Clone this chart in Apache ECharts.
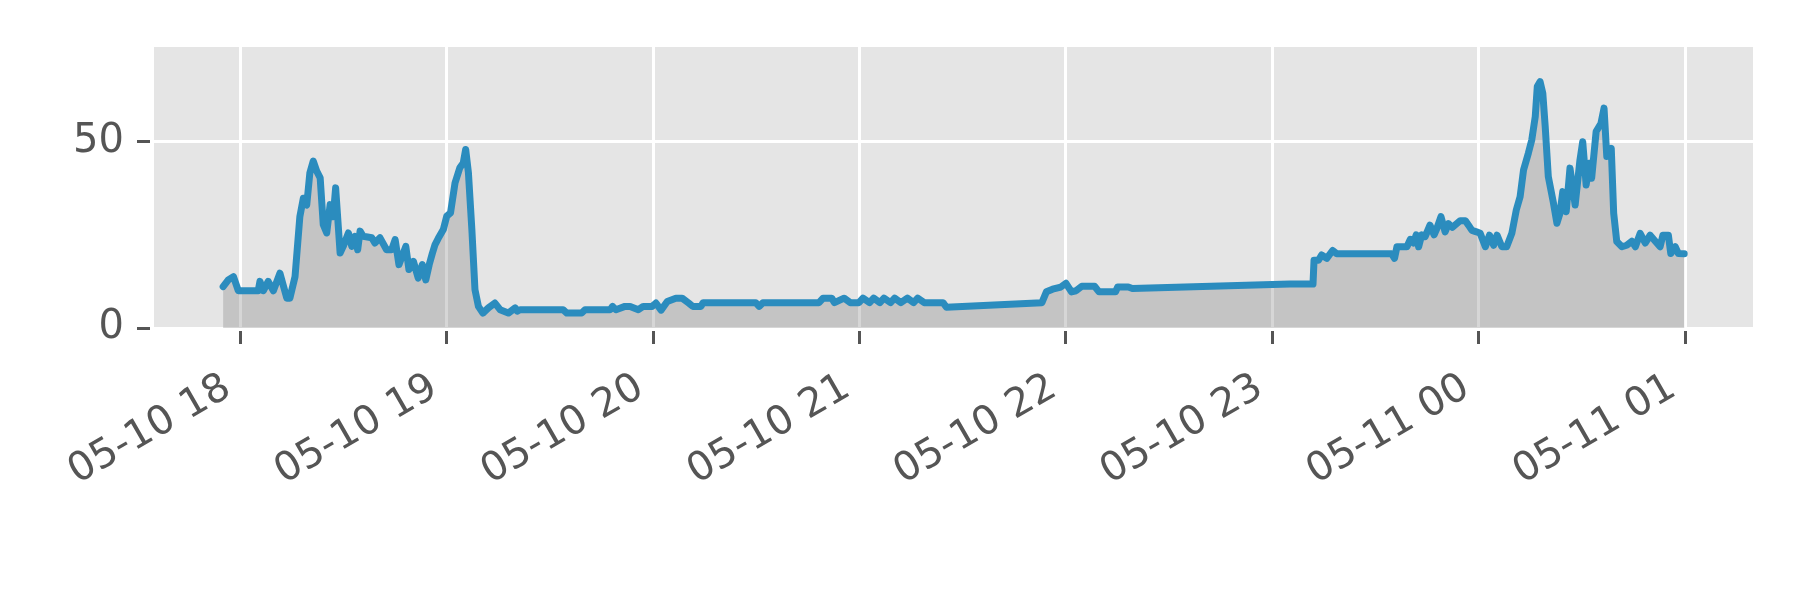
<!DOCTYPE html>
<html>
<head>
<meta charset="utf-8">
<script src="https://cdn.jsdelivr.net/npm/echarts@6/dist/echarts.min.js"></script>
<style>
  html, body { margin: 0; padding: 0; background: #ffffff; }
  #chart { width: 1800px; height: 600px; }
</style>
</head>
<body>
<div id="chart"></div>
<script>
// Minutes after 05-10 18:00
const minutes = [
  -4.9, -3.4, -1.9, -0.5, 5.3, 5.8, 6.8, 8.2, 9.7, 11.6, 13.6, 14.5, 16.0, 17.4, 18.4, 19.4,
  20.3, 21.3, 22.3, 23.3, 24.2, 25.2, 26.2, 27.1, 27.8, 29.1, 30.0, 31.5, 32.5, 33.4, 34.2, 34.9,
  35.8, 38.3, 39.2, 40.7, 42.6, 44.1, 45.1, 46.2, 48.2, 49.1, 50.4, 51.8, 53.0, 54.0, 55.0, 55.9,
  56.7, 57.6, 59.1, 60.1, 61.2, 62.5, 63.9, 64.9, 65.6, 66.4, 67.4, 68.3, 69.3, 70.6, 72.2, 74.1,
  75.6, 78.0, 80.0, 80.6, 81.4, 93.9, 95.0, 99.3, 100.3, 107.6, 108.3, 109.3, 111.9, 113.4, 115.8, 117.2,
  119.8, 120.9, 122.4, 124.2, 126.7, 128.5, 130.4, 131.6, 134.0, 134.6, 149.9, 150.9, 152.0, 168.3, 169.5, 172.0,
  172.8, 175.6, 177.4, 179.9, 181.1, 183.0, 184.2, 186.0, 187.2, 189.1, 190.3, 192.1, 194.0, 195.8, 197.0, 198.9,
  204.4, 205.3, 233.1, 234.4, 236.2, 238.6, 240.1, 241.7, 243.0, 244.7, 248.4, 249.7, 254.5, 255.1, 258.2, 259.4,
  305.2, 311.9, 312.2, 313.5, 314.4, 315.9, 317.6, 318.8, 334.8, 335.6, 336.3, 339.2, 340.2, 341.1, 341.9, 342.6,
  343.5, 344.5, 345.9, 347.1, 347.9, 349.1, 350.3, 351.3, 352.4, 354.7, 356.2, 357.1, 358.1, 359.4, 360.5, 362.0,
  363.2, 364.4, 365.4, 366.8, 368.2, 369.7, 371.0, 372.1, 373.1, 374.5, 375.5, 376.5, 377.1, 377.9, 378.7, 379.4,
  380.3, 381.8, 382.8, 383.7, 384.5, 385.5, 386.6, 388.1, 389.5, 390.3, 391.3, 392.2, 392.9, 394.2, 395.6, 396.5,
  397.3, 398.6, 399.3, 400.2, 401.7, 403.1, 404.6, 405.6, 407.0, 408.5, 409.9, 411.4, 412.8, 413.6, 415.2, 415.9,
  417.2, 418.1, 419.8
];
const values = [
  11.1, 12.9, 13.8, 10.0, 10.0, 12.5, 10.0, 12.5, 10.0, 14.7, 8.0, 8.0, 13.8, 29.9, 34.8, 33.0,
  41.6, 44.8, 42.1, 40.3, 27.7, 25.5, 33.1, 29.9, 37.6, 20.1, 21.9, 25.5, 21.9, 24.6, 21.0, 26.0,
  24.6, 24.2, 22.8, 24.2, 21.0, 21.0, 23.7, 17.0, 21.9, 15.7, 17.9, 13.4, 17.0, 12.9, 17.0, 20.0,
  22.4, 24.0, 26.4, 30.0, 30.9, 38.9, 43.0, 44.3, 47.9, 41.6, 26.4, 10.3, 5.8, 4.0, 5.4, 6.7,
  4.9, 4.0, 5.4, 4.5, 4.9, 4.9, 4.0, 4.0, 4.9, 4.9, 5.8, 4.9, 5.8, 5.8, 4.9, 5.8,
  5.8, 6.7, 4.8, 7.1, 8.0, 8.0, 6.7, 5.8, 5.8, 6.8, 6.8, 5.8, 6.8, 6.8, 8.0, 8.0,
  6.8, 8.0, 6.8, 6.8, 8.0, 6.8, 8.0, 6.8, 8.0, 6.8, 8.0, 6.8, 8.0, 6.8, 8.0, 6.8,
  6.8, 5.6, 6.8, 9.7, 10.4, 11.0, 12.0, 9.7, 10.0, 11.2, 11.2, 9.7, 9.7, 11.0, 11.0, 10.6,
  11.8, 11.8, 18.2, 18.2, 19.6, 18.7, 20.8, 19.9, 19.9, 18.7, 21.8, 21.8, 23.8, 22.8, 25.0, 21.8,
  25.0, 24.5, 27.6, 25.0, 26.7, 29.9, 25.8, 28.0, 27.0, 28.8, 28.8, 27.6, 26.2, 25.8, 25.4, 21.8,
  24.9, 22.2, 24.9, 21.8, 21.8, 25.4, 31.7, 35.2, 42.4, 46.9, 50.5, 56.7, 64.8, 66.1, 63.0, 54.0,
  40.6, 33.5, 28.1, 30.8, 36.6, 31.2, 42.9, 33.0, 45.1, 50.0, 38.4, 44.2, 40.2, 52.7, 54.9, 59.0,
  46.0, 48.2, 30.8, 23.2, 21.8, 22.2, 23.3, 21.8, 25.4, 22.8, 24.9, 23.3, 21.8, 24.9, 24.9, 20.0,
  21.8, 20.0, 19.9
];
const xTickMinutes = [0, 60, 120, 180, 240, 300, 360, 420];
const xTickLabels = ['05-10 18', '05-10 19', '05-10 20', '05-10 21', '05-10 22', '05-10 23', '05-11 00', '05-11 01'];
const yTickValues = [0, 50];
const yTickLabels = ['0', '50'];

const chart = echarts.init(document.getElementById('chart'), null, { renderer: 'canvas' });
const textStyle = { fontFamily: 'DejaVu Sans', fontSize: 40, color: '#555555' };

chart.setOption({
  animation: false,
  backgroundColor: '#ffffff',
  grid: {
    left: 154, right: 47, top: 47, bottom: 272,
    show: true, backgroundColor: '#E5E5E5', borderWidth: 0,
    containLabel: false, outerBoundsMode: 'none'
  },
  xAxis: {
    type: 'value',
    min: -25, max: 439.8,
    offset: 3,
    axisLine: { show: false, onZero: false },
    axisTick: { show: true, length: 13, lineStyle: { color: '#555555', width: 3 }, customValues: xTickMinutes },
    axisLabel: {
      customValues: xTickMinutes,
      rotate: 30, margin: 47,
      padding: [0, 14, 0, 0],
      ...textStyle,
      formatter: v => xTickLabels[xTickMinutes.indexOf(Math.round(v))] || ''
    },
    splitLine: { show: true, lineStyle: { color: '#ffffff', width: 3 } }
  },
  yAxis: {
    type: 'value',
    min: 0, max: 75.4,
    offset: 4,
    axisLine: { show: false, onZero: false },
    axisTick: { show: true, length: 13, lineStyle: { color: '#555555', width: 3 }, customValues: yTickValues },
    axisLabel: {
      customValues: yTickValues,
      margin: 26,
      ...textStyle,
      formatter: v => yTickLabels[yTickValues.indexOf(Math.round(v))] || ''
    },
    splitLine: { show: true, lineStyle: { color: '#ffffff', width: 3 } }
  },
  series: [{
    type: 'line',
    data: minutes.map((m, i) => [m, values[i]]),
    showSymbol: false,
    smooth: false,
    lineStyle: { color: '#2b8cbe', width: 7, join: 'round', cap: 'round' },
    areaStyle: { color: '#808080', opacity: 0.32, origin: 'start' },
    itemStyle: { color: '#2b8cbe' }
  }]
});
</script>
</body>
</html>
